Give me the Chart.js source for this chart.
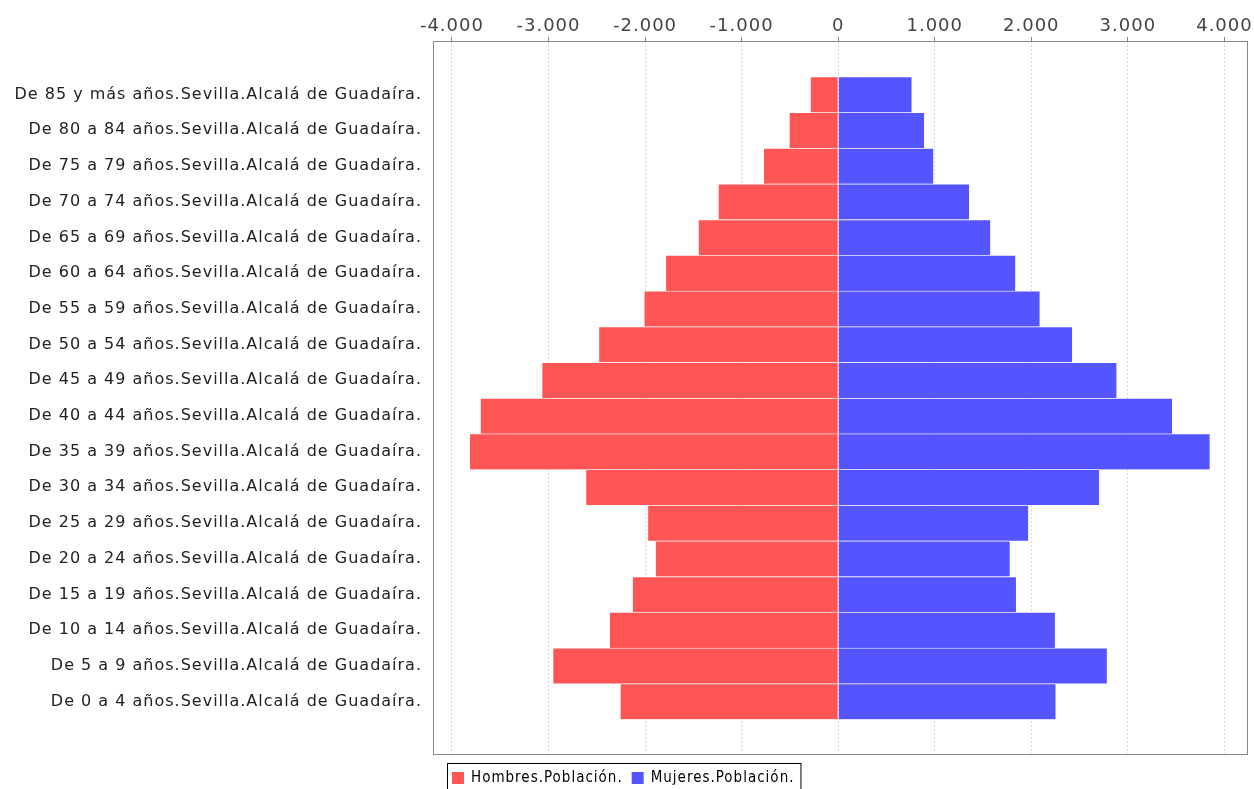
<!DOCTYPE html>
<html><head><meta charset="utf-8">
<script src="https://cdn.jsdelivr.net/npm/chart.js@4/dist/chart.umd.min.js"></script>
<style>html,body{margin:0;padding:0;background:#fff;overflow:hidden;}</style>
</head><body>
<canvas id="c" width="1254" height="789"></canvas>
<script>
const categories = [
  'De 85 y más años.Sevilla.Alcalá de Guadaíra.',
  'De 80 a 84 años.Sevilla.Alcalá de Guadaíra.',
  'De 75 a 79 años.Sevilla.Alcalá de Guadaíra.',
  'De 70 a 74 años.Sevilla.Alcalá de Guadaíra.',
  'De 65 a 69 años.Sevilla.Alcalá de Guadaíra.',
  'De 60 a 64 años.Sevilla.Alcalá de Guadaíra.',
  'De 55 a 59 años.Sevilla.Alcalá de Guadaíra.',
  'De 50 a 54 años.Sevilla.Alcalá de Guadaíra.',
  'De 45 a 49 años.Sevilla.Alcalá de Guadaíra.',
  'De 40 a 44 años.Sevilla.Alcalá de Guadaíra.',
  'De 35 a 39 años.Sevilla.Alcalá de Guadaíra.',
  'De 30 a 34 años.Sevilla.Alcalá de Guadaíra.',
  'De 25 a 29 años.Sevilla.Alcalá de Guadaíra.',
  'De 20 a 24 años.Sevilla.Alcalá de Guadaíra.',
  'De 15 a 19 años.Sevilla.Alcalá de Guadaíra.',
  'De 10 a 14 años.Sevilla.Alcalá de Guadaíra.',
  'De 5 a 9 años.Sevilla.Alcalá de Guadaíra.',
  'De 0 a 4 años.Sevilla.Alcalá de Guadaíra.'
];
const hombres = [-285, -503, -768, -1238, -1445, -1782, -2006, -2475, -3064, -3702, -3813, -2609, -1968, -1889, -2127, -2365, -2950, -2254];
const mujeres = [760, 890, 985, 1355, 1575, 1834, 2086, 2423, 2882, 3457, 3847, 2702, 1968, 1776, 1841, 2244, 2782, 2251];
const tickValues = [-4000, -3000, -2000, -1000, 0, 1000, 2000, 3000, 4000];
const axisMin = -4196;
const axisMax = 4244;
const seriesNames = ['Hombres.Población.', 'Mujeres.Población.'];
const seriesColors = ['#FF5555', '#5555FF'];

function fmt(v) {
  const s = Math.abs(v).toString().replace(/\B(?=(\d{3})+(?!\d))/g, '.');
  return (v < 0 ? '-' : '') + s;
}

const framePlugin = {
  id: 'frame',
  beforeInit(chart) {
    try { chart.ctx.letterSpacing = '1px'; } catch (e) {}
  },
  beforeDraw(chart) {
    const ctx = chart.ctx;
    try { ctx.letterSpacing = '1px'; } catch (e) {}
    ctx.save();
    ctx.fillStyle = '#ffffff';
    ctx.fillRect(0, 0, chart.width, chart.height);
    ctx.restore();
  },
  afterDraw(chart) {
    const ctx = chart.ctx, a = chart.chartArea;
    ctx.save();
    ctx.strokeStyle = '#888888';
    ctx.lineWidth = 1;
    const l = Math.round(a.left) + 0.5, t = Math.round(a.top) + 0.5;
    const r = Math.round(a.right) - 0.5, b = Math.round(a.bottom) - 0.5;
    ctx.strokeRect(l, t, r - l, b - t);
    // legend
    ctx.font = '15px "DejaVu Sans Condensed", "DejaVu Sans"';
    ctx.textBaseline = 'middle';
    const boxLeft = Math.round(a.left) + 14;
    const boxTop = Math.round(a.bottom) + 8;
    const midY = boxTop + 15;
    let x = boxLeft + 5;
    const items = chart.data.datasets.map(d => ({ text: d.label, color: d.backgroundColor }));
    items.forEach((it, i) => {
      ctx.fillStyle = it.color;
      ctx.fillRect(x, midY - 6, 12, 12);
      x += 19;
      ctx.fillStyle = '#000';
      ctx.fillText(it.text, x, midY);
      x += ctx.measureText(it.text).width + (i < items.length - 1 ? 9 : 6);
    });
    ctx.strokeStyle = '#000';
    ctx.strokeRect(boxLeft + 0.5, boxTop + 0.5, x - boxLeft, 40);
    ctx.restore();
  }
};

new Chart(document.getElementById('c'), {
  type: 'bar',
  data: {
    labels: ['', ...categories, ''],
    datasets: [
      { label: seriesNames[0], data: [null, ...hombres, null], backgroundColor: seriesColors[0],
        borderColor: 'rgba(255,255,255,0.3)', borderWidth: { top: 1, bottom: 0, left: 0, right: 0 }, borderSkipped: false,
        barPercentage: 1, categoryPercentage: 1 },
      { label: seriesNames[1], data: [null, ...mujeres, null], backgroundColor: seriesColors[1],
        borderColor: 'rgba(255,255,255,0.3)', borderWidth: { top: 1, bottom: 0, left: 0, right: 0 }, borderSkipped: false,
        barPercentage: 1, categoryPercentage: 1 }
    ]
  },
  options: {
    indexAxis: 'y',
    responsive: false,
    animation: false,
    devicePixelRatio: 1,
    layout: { padding: { top: 0, left: 0, right: 6, bottom: 34 } },
    plugins: { legend: { display: false }, tooltip: { enabled: false } },
    scales: {
      x: {
        type: 'linear', position: 'top', stacked: true,
        min: axisMin, max: axisMax,
        afterBuildTicks: s => { s.ticks = tickValues.map(v => ({ value: v })); },
        afterFit: s => { s.height = 41; },
        ticks: { callback: v => fmt(v), font: { family: 'DejaVu Sans', size: 18 }, color: '#444', padding: 0, maxRotation: 0, autoSkip: false },
        grid: { color: '#d8d8d8', tickColor: '#888', tickLength: 4, tickBorderDash: [] },
        border: { display: false, dash: [2, 2] }
      },
      y: {
        stacked: true,
        afterFit: s => { s.width = 433; },
        ticks: { font: { family: 'DejaVu Sans', size: 16 }, color: '#222', padding: 3, autoSkip: false },
        grid: { display: false },
        border: { display: false }
      }
    }
  },
  plugins: [framePlugin]
});
</script>
</body></html>
